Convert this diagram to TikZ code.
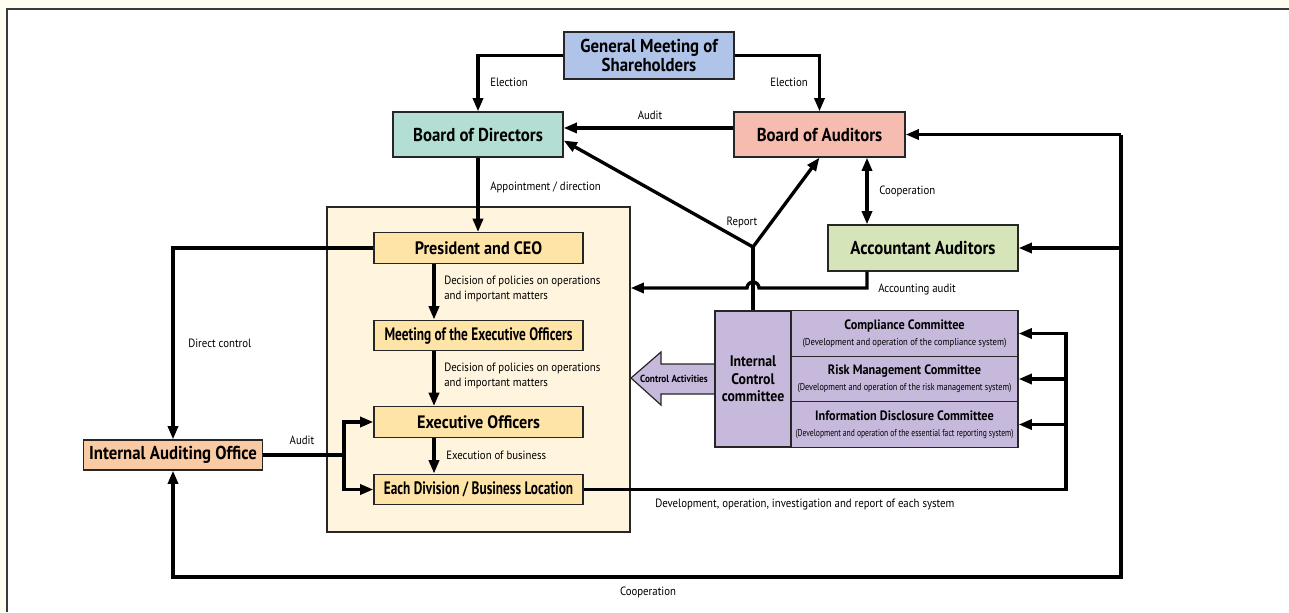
\documentclass[tikz,border=0pt]{standalone}
\usepackage{fontspec}
\setmainfont{PT Sans}[FakeStretch=0.9]
\newfontfamily\condfont{PT Sans}[FakeStretch=0.74]
\usetikzlibrary{arrows.meta}
\definecolor{pagecream}{HTML}{FFFDF0}
\definecolor{framegray}{HTML}{3A3A3A}
\definecolor{gmsfill}{HTML}{AFC4E8}
\definecolor{bodfill}{HTML}{B2DED4}
\definecolor{boafill}{HTML}{F6BCAF}
\definecolor{aafill}{HTML}{D5E4B9}
\definecolor{mgmtfill}{HTML}{FFF4DE}
\definecolor{execfill}{HTML}{FFE4A8}
\definecolor{iaofill}{HTML}{FACBA2}
\definecolor{cmtfill}{HTML}{C6B9DC}
\newcommand\cmtsub[2]{\\[1pt]\scalebox{#1}[1]{\mdseries\fontsize{7.5}{8}\selectfont #2}}

\begin{document}
\begin{tikzpicture}[x=0.75pt,y=-0.75pt,
  box/.style={draw=black!85, line width=0.9pt, inner sep=0pt, align=center,
    font=\bfseries\fontsize{14}{14.5}\selectfont},
  execbox/.style={box, fill=execfill, minimum width=156.75pt, minimum height=23pt,
    font=\bfseries\fontsize{13.5}{14}\selectfont},
  cmtbox/.style={box, fill=cmtfill, minimum width=170.25pt, minimum height=34pt,
    font=\bfseries\fontsize{10.2}{11}\selectfont},
  lbl/.style={inner sep=0pt, align=left, font=\fontsize{9}{10.8}\selectfont},
  line/.style={line width=2.5pt},
  arr/.style={line, -{Triangle[length=10pt,width=7.5pt]}},
  arrs/.style={line, {Triangle[length=10pt,width=7.5pt]}-{Triangle[length=10pt,width=7.5pt]}}]
\useasboundingbox (0,0) rectangle (1289,612);
\fill[pagecream] (0,0) rectangle (1289,612);
\fill[white] (7,9) rectangle (1289,612);
\draw[framegray, line width=1.5pt] (7,612) -- (7,9) -- (1289,9);

% governing bodies
\node[box, fill=gmsfill, minimum width=127.5pt, minimum height=35.25pt] (gms) at (649,55.5) {General Meeting of\\Shareholders};
\node[box, fill=bodfill, minimum width=127.5pt, minimum height=33.75pt] (bod) at (478,134.5) {Board of Directors};
\node[box, fill=boafill, minimum width=128.25pt, minimum height=33.75pt] (boa) at (819.5,134.5) {Board of Auditors};
\node[box, fill=aafill, minimum width=142.5pt, minimum height=34.5pt] (aa) at (923,248) {Accountant Auditors};

% execution side
\node[box, fill=mgmtfill, minimum width=227.25pt, minimum height=243.75pt] (mgmt) at (478.5,369.5) {};
\node[execbox] (ceo) at (478.5,248) {President and CEO};
\node[execbox] (meo) at (478.5,335.5) {\condfont Meeting of the Executive Officers};
\node[execbox] (eo) at (478.5,422) {Executive Officers};
\node[execbox] (div) at (478.5,489.5) {\condfont Each Division / Business Location};
\node[box, fill=iaofill, minimum width=134.25pt, minimum height=22.5pt] (iao) at (173,455) {Internal Auditing Office};

% internal control
\draw[black!85, line width=0.9pt, fill=cmtfill] (715,364) -- (661,364) -- (661,352) -- (631,378) -- (661,405) -- (661,394) -- (715,394);
\node[inner sep=0pt, font=\bfseries\fontsize{7.7}{8}\selectfont] (ctrl) at (674,379) {Control Activities};
\node[box, fill=cmtfill, minimum width=57pt, minimum height=102pt, font=\bfseries\fontsize{11.5}{13.2}\selectfont] (icc) at (753,379) {Internal\\Control\\committee};
\node[cmtbox] (comp) at (904.5,333.5) {Compliance Committee\cmtsub{0.96}{(Development and operation of the compliance system)}};
\node[cmtbox] (risk) at (904.5,379) {Risk Management Committee\cmtsub{0.91}{(Development and operation of the risk management system)}};
\node[cmtbox] (info) at (904.5,424.5) {Information Disclosure Committee\cmtsub{0.845}{(Development and operation of the essential fact reporting system)}};

\coordinate (rep) at (753,247);
\coordinate (aax) at (867,288);
\coordinate (spine) at (434,0);
\coordinate (aud) at (344,455);
\coordinate (devx) at (1066,0);
\coordinate (loopx) at (1121,0);
\coordinate (base) at (0,577);

% connectors
\draw[arr] (gms.west) -| (bod.north);
\draw[arr] (gms.east) -| (boa.north);
\draw[arr] ([yshift=4.9pt]boa.west) -- ([yshift=4.9pt]bod.east);
\draw[arr] (rep) -- (bod.-4.4);
\draw[arr] (rep) -- (boa.south);
\draw[line] (icc.north) -- (rep);
\draw[arr] (bod.south) -- (bod.south |- ceo.north);
\draw[arrs] (boa.south -| aax) -- (aa.north -| aax);
\draw[arr] (aa.south -| aax) -- (aax) -- ([xshift=4.5pt]aax -| rep) arc[start angle=0, end angle=-180, radius=6] -- (aax -| mgmt.east);
\draw[arr] (ceo.west) -| (iao.north);
\draw[line] (iao.east) -- (aud);
\draw[arr] (aud) |- (eo.west);
\draw[arr] (aud) |- (div.west);
\draw[arr] (ceo.south -| spine) -- (meo.north -| spine);
\draw[arr] (meo.south -| spine) -- (eo.north -| spine);
\draw[arr] (eo.south -| spine) -- (div.north -| spine);
\draw[arr] (div.east) -| (comp.east -| devx) -- (comp.east);
\draw[arr] (risk.east -| devx) -- (risk.east);
\draw[arr] (info.east -| devx) -- (info.east);
\draw[arr] (boa.east -| loopx) -- (loopx |- base) -- (iao.south |- base) -- (iao.south);
\draw[arr] (boa.east -| loopx) -- (boa.east);
\draw[arr] (aa.east -| loopx) -- (aa.east);

% labels
\node[lbl, anchor=west] (el1) at (490,82) {Election};
\node[lbl, anchor=west] (el2) at (770,82) {Election};
\node[lbl] (audl) at (650,115) {Audit};
\node[lbl, anchor=west] (appl) at (490,187) {Appointment / direction};
\node[lbl] (repl) at (742,222) {Report};
\node[lbl, anchor=west] (coopl) at (879,191) {Cooperation};
\node[lbl, anchor=west] (accl) at (878,289) {Accounting audit};
\node[lbl, anchor=west] (dcl) at (188,343) {Direct control};
\node[lbl, anchor=west] (dec1) at (444,289) {Decision of policies on operations\\and important matters};
\node[lbl, anchor=west] (dec2) at (444,376) {Decision of policies on operations\\and important matters};
\node[lbl] (iaudl) at (302,440) {Audit};
\node[lbl, anchor=west] (exl) at (446,455) {Execution of business};
\node[lbl, anchor=west] (devl) at (655,505) {Development, operation, investigation and report of each system};
\node[lbl] (coopb) at (648,592) {Cooperation};
\end{tikzpicture}
\end{document}
